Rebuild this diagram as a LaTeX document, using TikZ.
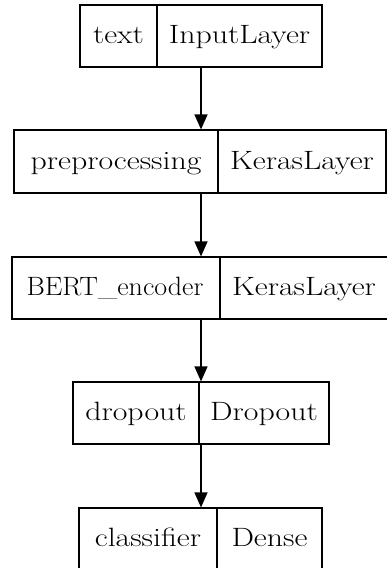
\documentclass[tikz,border=0pt]{standalone}
\usepackage{fontspec}
\usetikzlibrary{arrows.meta}

\tikzset{
  layer/.style={draw, line width=1.2pt, minimum height=62pt, inner sep=0pt},
  lbl/.style={font=\fontsize{26.5}{30}\selectfont, inner sep=0pt, anchor=base, xscale=1.2, transform shape},
  arr/.style={-{Triangle[length=15pt,width=13pt]}, line width=1.2pt}
}

\begin{document}
\begin{tikzpicture}
  \useasboundingbox (0,0) rectangle (387pt,-568pt);
  \begin{scope}[x=1pt,y=1pt]
    \node (text) at (201, -36) [layer, minimum width=242pt] {};
    \node (prep) at (200, -161.5) [layer, minimum width=372pt, minimum height=63pt] {};
    \node (bert) at (200, -288) [layer, minimum width=376pt] {};
    \node (drop) at (201, -413) [layer, minimum width=256pt] {};
    \node (clf) at (200.5, -539) [layer, minimum width=243pt] {};

    \draw[line width=1.2pt] (157, -5) -- (157, -67);
    \draw[line width=1.2pt] (218, -130) -- (218, -193);
    \draw[line width=1.2pt] (220, -257) -- (220, -319);
    \draw[line width=1.2pt] (199, -382) -- (199, -444);
    \draw[line width=1.2pt] (217, -508) -- (217, -570);

    \node (textname) at (118.5, -43) [lbl] {text};
    \node (texttype) at (239.5, -43) [lbl] {InputLayer};
    \node (prepname) at (116, -169) [lbl] {preprocessing};
    \node (preptype) at (302, -169) [lbl] {KerasLayer};
    \node (bertname) at (115, -295) [lbl, xscale=0.88] {BERT\_encoder};
    \node (berttype) at (304, -295) [lbl] {KerasLayer};
    \node (dropname) at (136, -420) [lbl] {dropout};
    \node (droptype) at (264, -420) [lbl] {Dropout};
    \node (clfname) at (148, -546) [lbl] {classifier};
    \node (clftype) at (269.5, -546) [lbl] {Dense};

    \draw[arr] (text.south) -- (text.south |- prep.north);
    \draw[arr] (text.south |- prep.south) -- (text.south |- bert.north);
    \draw[arr] (text.south |- bert.south) -- (text.south |- drop.north);
    \draw[arr] (drop.south) -- (drop.south |- clf.north);
  \end{scope}
\end{tikzpicture}
\end{document}
